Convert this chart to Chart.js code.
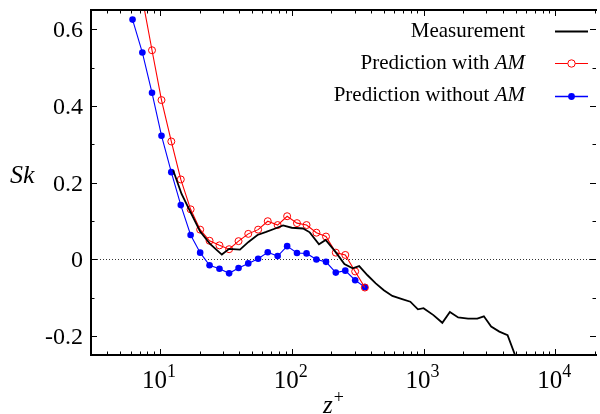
<!DOCTYPE html>
<html>
<head>
<meta charset="utf-8">
<script src="https://cdn.jsdelivr.net/npm/chart.js@4.4.1/dist/chart.umd.min.js"></script>
<style>
  html, body { margin: 0; padding: 0; background: #fff; }
  #wrap { width: 600px; height: 414px; }
</style>
</head>
<body>
<div id="wrap"><canvas id="c" width="600" height="414"></canvas></div>
<script>
// ---- data ----
const predX = [6.2, 7.36, 8.71, 10.28, 12.2, 14.4, 17.1, 20.2, 23.8, 28.3, 33.5, 39.5, 46.8, 55.6, 65.8, 78.2, 92.3, 109.6, 129.6, 154, 182, 216, 255, 303, 359];
const withoutAM = [0.625, 0.539, 0.434, 0.322, 0.227, 0.141, 0.063, 0.017, -0.016, -0.025, -0.037, -0.023, -0.011, 0.001, 0.018, 0.008, 0.034, 0.016, 0.015, -0.001, -0.007, -0.035, -0.030, -0.055, -0.073];
const withAMX = [7.36, 8.71, 10.28, 12.2, 14.4, 17.1, 20.2, 23.8, 28.3, 33.5, 39.5, 46.8, 55.6, 65.8, 78.2, 92.3, 109.6, 129.6, 154, 182, 216, 255, 303, 359];
const withAM = [0.68, 0.545, 0.415, 0.307, 0.208, 0.130, 0.077, 0.048, 0.036, 0.026, 0.047, 0.066, 0.077, 0.099, 0.089, 0.112, 0.094, 0.089, 0.069, 0.059, 0.017, 0.011, -0.032, -0.074];
const measX = [12.6, 14.6, 17.1, 20.2, 24.0, 29.5, 33.5, 40.5, 47, 55, 64, 75, 86, 100, 122, 137, 161, 181, 215, 251, 290, 325, 376, 434, 500, 580, 688, 794, 907, 1000, 1189, 1389, 1585, 1832, 2178, 2559, 2870, 3260, 3760, 4343, 5200];
const measY = [0.232, 0.170, 0.122, 0.072, 0.040, 0.012, 0.027, 0.025, 0.045, 0.063, 0.071, 0.080, 0.088, 0.082, 0.080, 0.070, 0.039, 0.050, 0.019, -0.013, -0.024, -0.018, -0.042, -0.063, -0.081, -0.096, -0.104, -0.111, -0.131, -0.128, -0.146, -0.166, -0.138, -0.152, -0.155, -0.155, -0.149, -0.176, -0.189, -0.198, -0.27];
const yTicks = [-0.2, 0, 0.2, 0.4, 0.6];
const yMinorTicks = [-0.1, 0.1, 0.3, 0.5];
const xTickExps = [1, 2, 3, 4];
const legendLabels = [["Measurement", ""], ["Prediction with ", "AM"], ["Prediction without ", "AM"]];

const toPts = (xs, ys) => xs.map((x, i) => ({x: x, y: ys[i]}));
const SERIF = "'Liberation Serif', 'Times New Roman', serif";

const framePlugin = {
  id: 'frame',
  beforeDraw(chart) {
    const ctx = chart.ctx;
    ctx.save();
    ctx.fillStyle = '#fff';
    ctx.fillRect(0, 0, chart.width, chart.height);
    ctx.restore();
  },
  beforeDatasetsDraw(chart) {
    const ctx = chart.ctx, a = chart.chartArea, ys = chart.scales.y;
    const y0 = Math.round(ys.getPixelForValue(0)) + 0.5;
    ctx.save();
    ctx.strokeStyle = '#333';
    ctx.lineWidth = 1;
    ctx.setLineDash([1, 2]);
    ctx.beginPath();
    ctx.moveTo(a.left, y0);
    ctx.lineTo(a.right, y0);
    ctx.stroke();
    ctx.restore();
  },
  afterDraw(chart) {
    const ctx = chart.ctx, a = chart.chartArea, xs = chart.scales.x, ys = chart.scales.y;
    ctx.save();
    ctx.strokeStyle = '#000';
    ctx.lineWidth = 2;
    ctx.beginPath();
    ctx.moveTo(a.left, a.top); ctx.lineTo(a.right + 2, a.top);
    ctx.moveTo(a.left, a.bottom); ctx.lineTo(a.right + 2, a.bottom);
    ctx.moveTo(a.left, a.top - 1); ctx.lineTo(a.left, a.bottom + 1);
    ctx.stroke();

    ctx.lineWidth = 1;
    ctx.beginPath();
    // x ticks
    for (let e = 0; e <= 4; e++) {
      for (let m = 1; m <= 9; m++) {
        const v = m * Math.pow(10, e);
        if (v < xs.min || v > xs.max) continue;
        const px = Math.round(xs.getPixelForValue(v)) + 0.5;
        const len = m === 1 ? 6 : 3.5;
        ctx.moveTo(px, a.bottom); ctx.lineTo(px, a.bottom - len);
        ctx.moveTo(px, a.top); ctx.lineTo(px, a.top + len);
      }
    }
    // y ticks (right axis line sits just off the canvas)
    const rx = a.right + 1;
    yTicks.forEach(v => {
      const py = Math.round(ys.getPixelForValue(v)) + 0.5;
      ctx.moveTo(a.left, py); ctx.lineTo(a.left + 6, py);
      ctx.moveTo(rx, py); ctx.lineTo(rx - 6, py);
    });
    yMinorTicks.forEach(v => {
      const py = Math.round(ys.getPixelForValue(v)) + 0.5;
      ctx.moveTo(a.left, py); ctx.lineTo(a.left + 3.5, py);
      ctx.moveTo(rx, py); ctx.lineTo(rx - 3.5, py);
    });
    ctx.stroke();

    // y tick labels
    ctx.fillStyle = '#000';
    ctx.font = '24px ' + SERIF;
    ctx.textAlign = 'right';
    ctx.textBaseline = 'alphabetic';
    yTicks.forEach(v => {
      const py = ys.getPixelForValue(v);
      const s = v === 0 ? '0' : (v < 0 ? '-' + Math.abs(v).toFixed(1) : v.toFixed(1));
      ctx.fillText(s, 83, py + 8);
    });

    // x tick labels 10^n
    xTickExps.forEach(n => {
      const px = xs.getPixelForValue(Math.pow(10, n));
      ctx.font = '25px ' + SERIF;
      const wb = ctx.measureText('10').width;
      ctx.font = '18px ' + SERIF;
      const we = ctx.measureText(String(n)).width;
      const start = px - (wb + we) / 2 - 1;
      ctx.textAlign = 'left';
      ctx.font = '25px ' + SERIF;
      ctx.fillText('10', start, 388);
      ctx.font = '18px ' + SERIF;
      ctx.fillText(String(n), start + wb, 377);
    });

    // axis titles
    ctx.font = 'italic 26px ' + SERIF;
    ctx.textAlign = 'left';
    ctx.fillText('Sk', 10, 183);
    ctx.font = 'italic 25px ' + SERIF;
    ctx.fillText('z', 323, 413);
    const zw = ctx.measureText('z').width;
    ctx.font = '18px ' + SERIF;
    ctx.fillText('+', 323 + zw + 1, 403);

    // legend
    const rows = [36.5, 68.5, 101];
    const sampleY = [31.5, 63.5, 96.5];
    const colors = ['#000', '#ff0000', '#0000ff'];
    legendLabels.forEach((lab, i) => {
      const right = 525;
      ctx.textAlign = 'right';
      let w = 0;
      if (lab[1]) {
        ctx.font = 'italic 21px ' + SERIF;
        ctx.fillText(lab[1], right, rows[i]);
        w = ctx.measureText(lab[1]).width;
      }
      ctx.font = '21px ' + SERIF;
      ctx.fillText(lab[0], right - w, rows[i]);
      ctx.strokeStyle = colors[i];
      ctx.lineWidth = i === 0 ? 2 : (i === 2 ? 1.6 : 1.2);
      ctx.setLineDash([]);
      ctx.beginPath();
      ctx.moveTo(555, sampleY[i]); ctx.lineTo(588, sampleY[i]);
      ctx.stroke();
      if (i === 1) {
        ctx.lineWidth = 1;
        ctx.beginPath();
        ctx.arc(571.5, sampleY[i], 3.7, 0, Math.PI * 2);
        ctx.fillStyle = '#fff';
        ctx.fill();
        ctx.stroke();
        ctx.fillStyle = '#000';
      } else if (i === 2) {
        ctx.beginPath();
        ctx.arc(571.5, sampleY[i], 3.4, 0, Math.PI * 2);
        ctx.fillStyle = '#0000ff';
        ctx.fill();
        ctx.fillStyle = '#000';
      }
    });
    ctx.restore();
  }
};

new Chart(document.getElementById('c'), {
  type: 'line',
  data: {
    datasets: [
      {
        label: 'Measurement',
        data: toPts(measX, measY),
        borderColor: '#000',
        borderWidth: 1.8,
        pointRadius: 0,
        tension: 0,
        fill: false
      },
      {
        label: 'Prediction with AM',
        data: toPts(withAMX, withAM),
        borderColor: '#ff0000',
        borderWidth: 1.1,
        pointRadius: 3.5,
        pointBorderWidth: 1,
        pointBorderColor: '#ff0000',
        pointBackgroundColor: 'rgba(0,0,0,0)',
        tension: 0,
        fill: false
      },
      {
        label: 'Prediction without AM',
        data: toPts(predX, withoutAM),
        borderColor: '#0000ff',
        borderWidth: 1.1,
        pointRadius: 3.3,
        pointBorderWidth: 0,
        pointBorderColor: '#0000ff',
        pointBackgroundColor: '#0000ff',
        tension: 0,
        fill: false
      }
    ]
  },
  options: {
    responsive: false,
    animation: false,
    devicePixelRatio: 1,
    layout: { padding: { left: 91, top: 10, right: 0, bottom: 59 } },
    plugins: { legend: { display: false }, tooltip: { enabled: false } },
    scales: {
      x: { type: 'logarithmic', min: 3, max: 20000, display: false },
      y: { type: 'linear', min: -0.25, max: 0.65, display: false }
    }
  },
  plugins: [framePlugin]
});
</script>
</body>
</html>
